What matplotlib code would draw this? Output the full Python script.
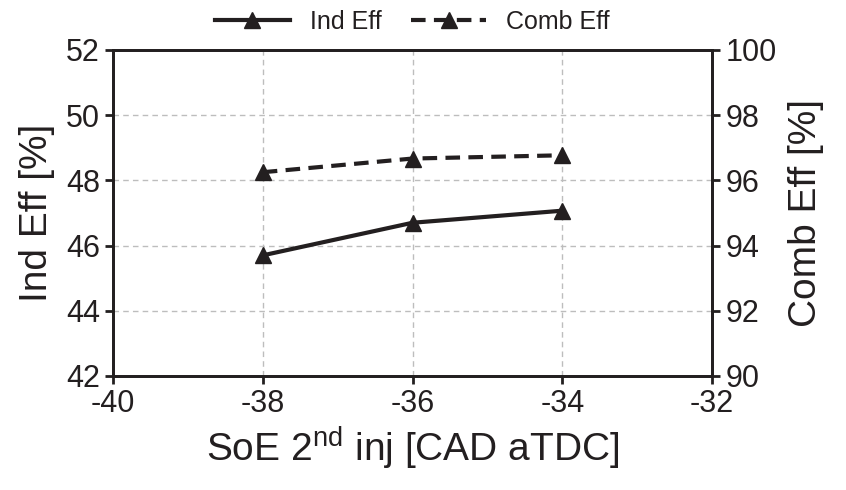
import numpy as np
import matplotlib
matplotlib.use('Agg')
import matplotlib.pyplot as plt

soe = [-38, -36, -34]
ind_eff = [45.7, 46.7, 47.07]
comb_eff = [96.25, 96.67, 96.77]

x_ticks = [-40, -38, -36, -34, -32]
left_ticks = [42, 44, 46, 48, 50, 52]
right_ticks = [90, 92, 94, 96, 98, 100]

plt.rcParams['font.family'] = ['Liberation Sans', 'DejaVu Sans']
plt.rcParams['mathtext.default'] = 'regular'
plt.rcParams['axes.unicode_minus'] = False
ink = '#231f20'

fig = plt.figure(figsize=(8.46, 4.9), dpi=100)
ax = fig.add_axes([0.1336, 0.2327, 0.708, 0.6653])
ax2 = ax.twinx()

l1, = ax.plot(soe, ind_eff, '-', color=ink, lw=3, marker='^', ms=11, label='Ind Eff')
l2, = ax2.plot(soe, comb_eff, '--', color=ink, lw=3, marker='^', ms=11,
               dashes=(3.5, 2.0), label='Comb Eff')

ax.set_xlim(-40, -32)
ax.set_ylim(42, 52)
ax2.set_ylim(90, 100)
ax.set_xticks(x_ticks)
ax.set_yticks(left_ticks)
ax2.set_yticks(right_ticks)

ax.grid(True, color='#bdbdbd', ls=(0, (4, 3)), lw=1)
ax.set_axisbelow(True)

for a in (ax, ax2):
    for s in a.spines.values():
        s.set_linewidth(2)
        s.set_color(ink)
    a.tick_params(labelsize=22, width=2, length=6, color=ink, labelcolor=ink, direction='out')

ax.set_xlabel(r'SoE 2$^{nd}$ inj [CAD aTDC]', fontsize=28, color=ink, labelpad=4)
ax.set_ylabel('Ind Eff [%]', fontsize=28, color=ink, labelpad=8)
ax2.set_ylabel('Comb Eff [%]', fontsize=28, color=ink, labelpad=8)

fig.legend(handles=[l1, l2], loc='center', bbox_to_anchor=(0.4875, 0.955), ncol=2,
           frameon=False, fontsize=18, handlelength=3, columnspacing=1.2,
           handletextpad=0.8, labelcolor=ink)

fig.savefig('out.png', dpi=100)
